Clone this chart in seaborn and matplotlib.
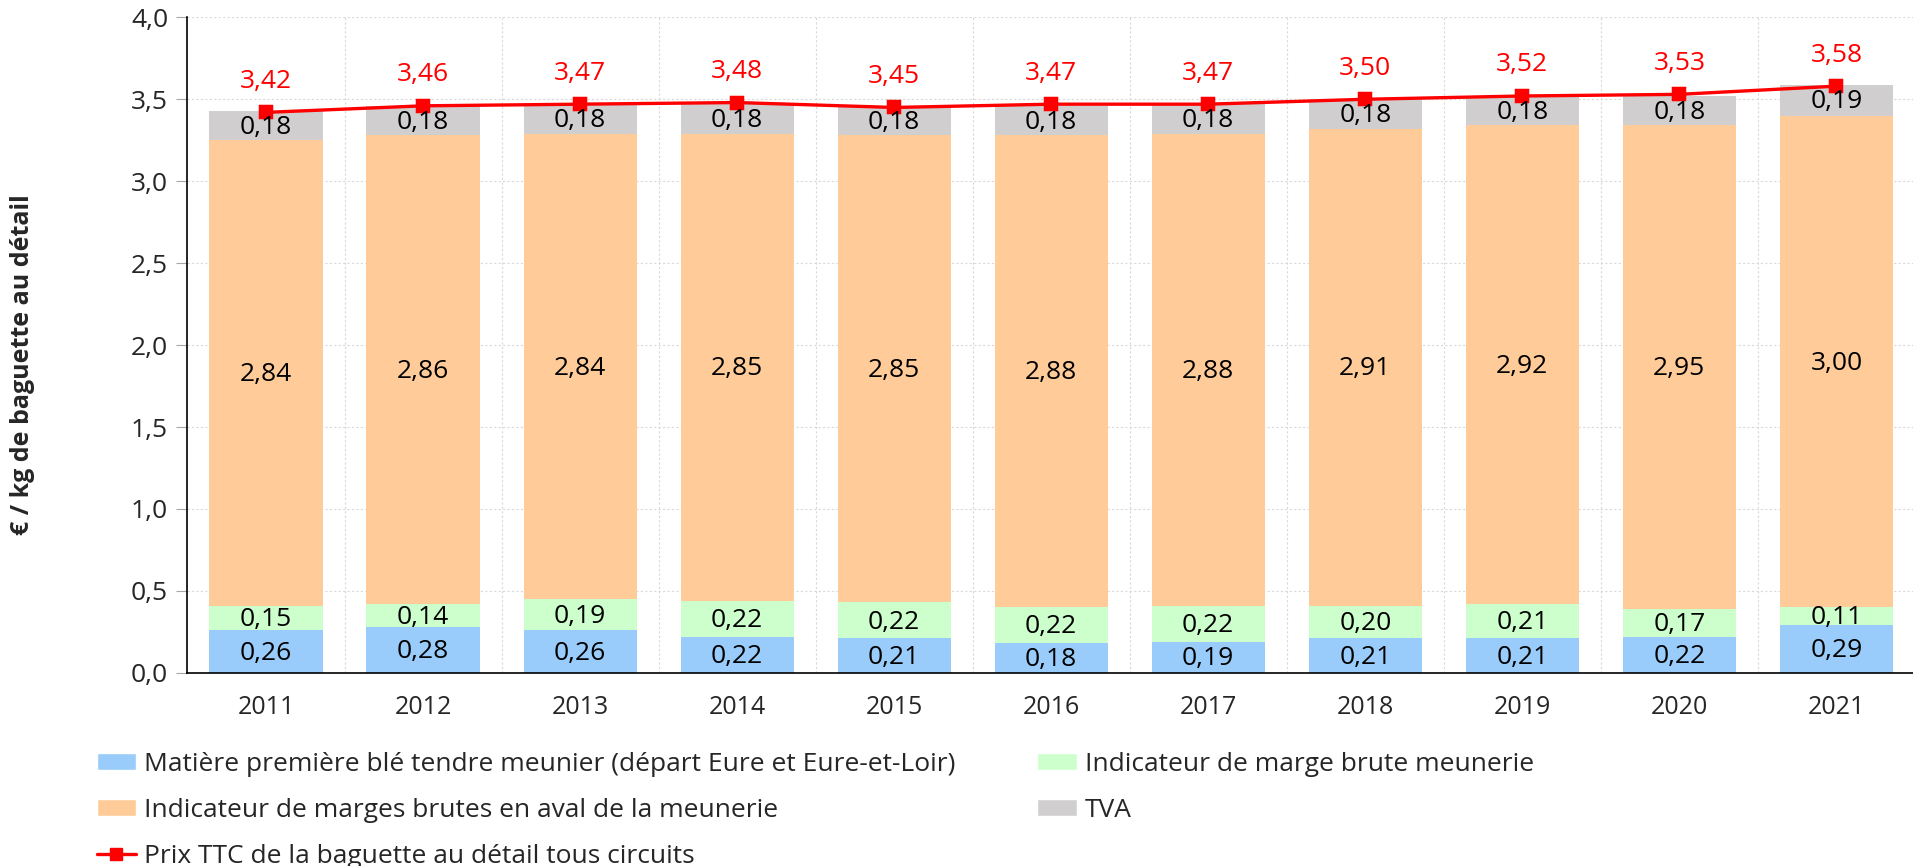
import numpy as np
import pandas as pd
import matplotlib
matplotlib.use('Agg')
import matplotlib.pyplot as plt
from matplotlib.patches import Patch
from matplotlib.lines import Line2D
from matplotlib.ticker import FuncFormatter, MultipleLocator
import seaborn as sns

# ---- data ----
years = ['2011', '2012', '2013', '2014', '2015', '2016', '2017', '2018', '2019', '2020', '2021']
ble = [0.26, 0.28, 0.26, 0.22, 0.21, 0.18, 0.19, 0.21, 0.21, 0.22, 0.29]
meunerie = [0.15, 0.14, 0.19, 0.22, 0.22, 0.22, 0.22, 0.20, 0.21, 0.17, 0.11]
aval = [2.84, 2.86, 2.84, 2.85, 2.85, 2.88, 2.88, 2.91, 2.92, 2.95, 3.00]
tva = [0.18, 0.18, 0.18, 0.18, 0.18, 0.18, 0.18, 0.18, 0.18, 0.18, 0.19]
prix = [3.42, 3.46, 3.47, 3.48, 3.45, 3.47, 3.47, 3.50, 3.52, 3.53, 3.58]

series_names = ['Matière première blé tendre meunier (départ Eure et Eure-et-Loir)',
                'Indicateur de marge brute meunerie',
                'Indicateur de marges brutes en aval de la meunerie',
                'TVA']
price_name = 'Prix TTC de la baguette au détail tous circuits'
colors = ['#99CCFA', '#CCFFCC', '#FFCC99', '#D0CECF']
red = '#FF0000'

df = pd.DataFrame({'year': years, 'ble': ble, 'meunerie': meunerie,
                   'aval': aval, 'tva': tva, 'prix': prix})
layers = ['ble', 'meunerie', 'aval', 'tva']
cum = df[layers].cumsum(axis=1)

sns.set_style('white')
plt.rcParams['font.family'] = ['Open Sans', 'DejaVu Sans']
FS = 19

fig = plt.figure(figsize=(19.13, 8.66), dpi=100)
ax = fig.add_axes([0.098, 0.223, 0.903, 0.757])

# stacked bars: draw cumulative totals from top layer down
for col, c in zip(layers[::-1], colors[::-1]):
    sns.barplot(x=df['year'], y=cum[col], color=c, width=0.72, ax=ax,
                saturation=1, linewidth=0, zorder=2)

# line for the retail price
sns.pointplot(x=df['year'], y=df['prix'], color=red, markers='s', markersize=8,
              linewidth=2.4, ax=ax, zorder=4)

# segment labels
fmt = lambda v: f'{v:.2f}'.replace('.', ',')
for i in range(len(years)):
    bottom = 0
    for col in layers:
        v = df[col][i]
        ax.text(i, bottom + v / 2 - 0.01, fmt(v), ha='center', va='center',
                fontsize=FS, color='black', zorder=5)
        bottom += v
    ax.text(i, df['prix'][i] + 0.19, fmt(df['prix'][i]), ha='center', va='center',
            fontsize=FS, color=red, zorder=5)

ax.set_xlim(-0.5, len(years) - 0.5)
ax.set_ylim(0, 4.0)
ax.yaxis.set_major_locator(MultipleLocator(0.5))
ax.yaxis.set_major_formatter(FuncFormatter(lambda v, p: f'{v:.1f}'.replace('.', ',')))
ax.set_xlabel('')
ax.set_ylabel('€ / kg de baguette au détail', fontsize=18, fontweight='bold')
ax.yaxis.set_label_coords(-0.088, 0.47)

# grids
ax.set_axisbelow(True)
ax.grid(axis='y', color='#D9D9D9', linestyle=(0, (2, 2)), linewidth=0.8, zorder=0)
for b in np.arange(0.5, len(years) - 0.5, 1):
    ax.axvline(b, color='#D9D9D9', linestyle=(0, (2, 2)), linewidth=0.8, zorder=0)

for s in ['top', 'right']:
    ax.spines[s].set_visible(False)
ax.spines['left'].set_color('black')
ax.spines['bottom'].set_color('black')
ax.spines['left'].set_linewidth(1.2)
ax.spines['bottom'].set_linewidth(1.2)
ax.tick_params(axis='y', length=8, color='#A6A6A6', labelsize=FS, pad=6, left=True)
ax.tick_params(axis='x', length=0, labelsize=18, pad=16)

# legend
handles = [Patch(facecolor=colors[0], label=series_names[0]),
           Patch(facecolor=colors[2], label=series_names[2]),
           Line2D([], [], color=red, marker='s', markersize=8, linewidth=2.4, label=price_name),
           Patch(facecolor=colors[1], label=series_names[1]),
           Patch(facecolor=colors[3], label=series_names[3])]
fig.legend(handles=handles, ncol=2, loc='upper left', bbox_to_anchor=(0.045, 0.144),
           frameon=False, fontsize=FS, handlelength=1.5, handleheight=0.6,
           handletextpad=0.3, labelspacing=0.8, columnspacing=3.1, borderaxespad=0)

plt.savefig('out.png', dpi=100)
plt.close()
